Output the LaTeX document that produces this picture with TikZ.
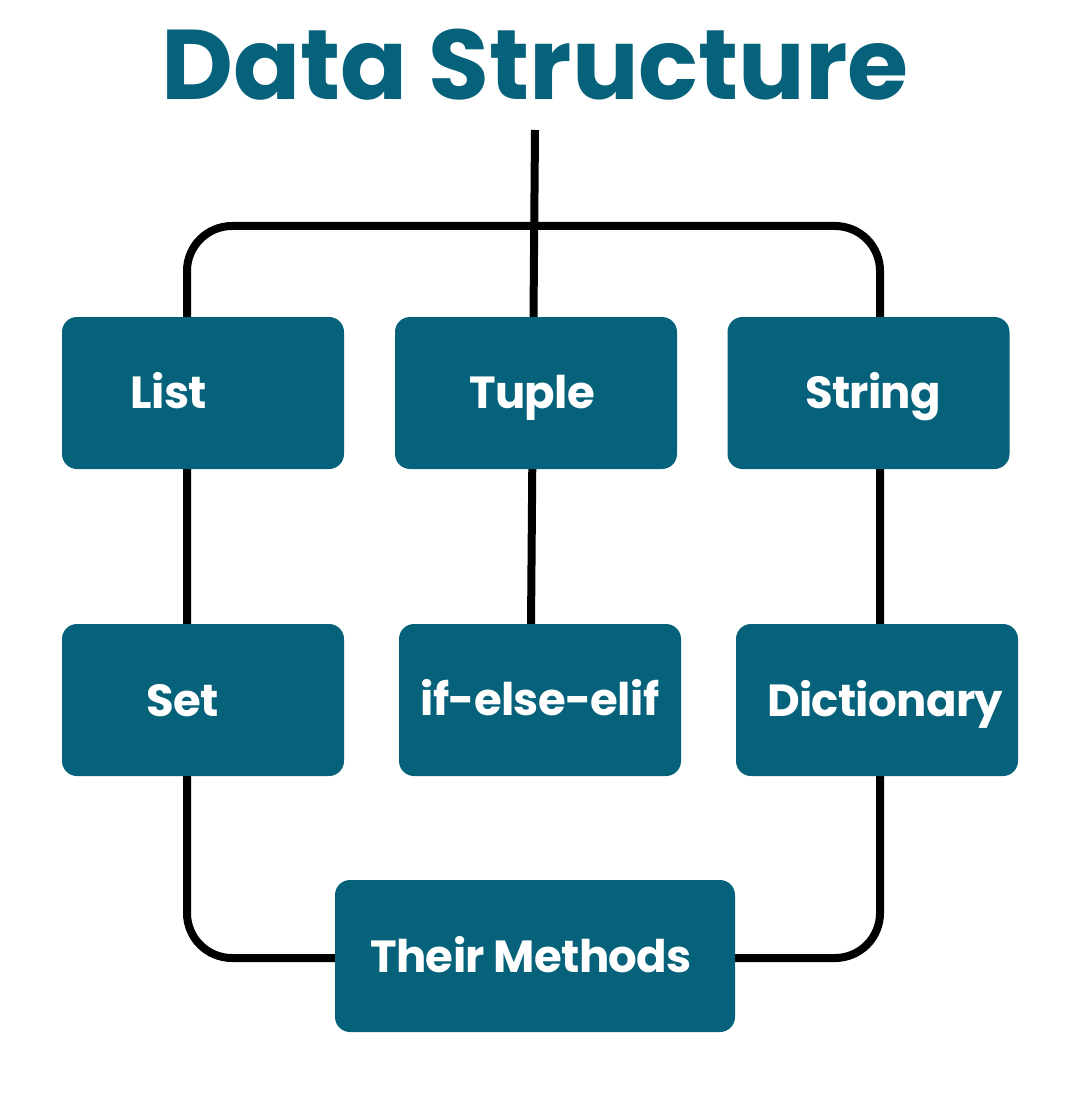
\documentclass[tikz,border=0pt]{standalone}
\usepackage{fontspec}
\setmainfont{Poppins}
\newfontfamily\lblfont[LetterSpace=-1.5]{Poppins}
\definecolor{teal}{HTML}{05627A}
\tikzset{
  box/.style={fill=teal, rounded corners=15pt, minimum width=282pt, minimum height=152pt, inner sep=0pt},
  lbl/.style={anchor=base, text=white, font=\lblfont\fontsize{45}{50}\selectfont\bfseries, inner sep=0pt},
  conn/.style={draw=black, line width=8pt},
}
\begin{document}
\begin{tikzpicture}[x=1pt,y=-1pt]
\useasboundingbox (0,0) rectangle (1080,1099);
\fill[white] (0,0) rectangle (1080,1099);
\node[text=teal, font=\fontsize{99}{110}\selectfont\bfseries, anchor=base, inner sep=0pt] (title) at (535,100) {Data Structure};
% loop corners
\coordinate (tl) at (187,226);
\coordinate (br) at (880,958);
\draw[conn, rounded corners=45pt] (tl) rectangle (br);
\coordinate (top) at (535,130);
\coordinate (bot) at (531,626);
\draw[conn] (top) -- (bot);
% boxes
\node[box] (list) at (203,393) {};
\node[box] (tuple) at (536,393) {};
\node[box] (string) at (868.5,393) {};
\node[box] (set) at (203,700) {};
\node[box] (ifelse) at (540,700) {};
\node[box] (dict) at (877,700) {};
\node[box, minimum width=400pt] (methods) at (535,956) {};
% labels
\node[lbl] (tlist) at (169,408) {List};
\node[lbl] (ttuple) at (532,408) {Tuple};
\node[lbl] (tstring) at (873,408) {String};
\node[lbl] (tset) at (183,716) {Set};
\node[lbl] (tifelse) at (540,715) {if-else-elif};
\node[lbl] (tdict) at (885,716) {Dictionary};
\node[lbl] (tmethods) at (531,972) {Their Methods};
\end{tikzpicture}
\end{document}
